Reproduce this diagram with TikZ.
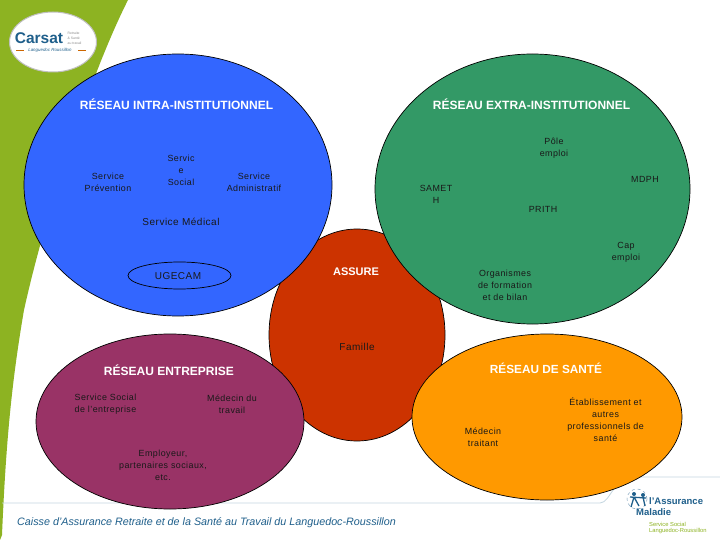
\documentclass[tikz,border=0pt]{standalone}
\usepackage{fontspec}
\setmainfont{Liberation Sans}
\usetikzlibrary{shapes.geometric}
\definecolor{cgreen}{HTML}{8DB322}
\definecolor{cblue}{HTML}{3366FF}
\definecolor{cteal}{HTML}{339966}
\definecolor{cred}{HTML}{CC3300}
\definecolor{cplum}{HTML}{993366}
\definecolor{corange}{HTML}{FF9900}
\definecolor{cnavy}{HTML}{1F5F8B}
\definecolor{crule}{HTML}{C4D6E0}
\tikzset{
  x=1pt,y=-1pt,
  blob/.style={ellipse,draw=black,line width=0.7pt,inner sep=0,outer sep=0},
  lab/.style={align=center,inner sep=0,text=black!90,font=\fontsize{8.9}{12}\selectfont\addfontfeature{LetterSpace=5}},
  big/.style={lab,font=\fontsize{10}{12}\selectfont\addfontfeature{LetterSpace=5}},
  ttl/.style={inner sep=0,text=white,font=\fontsize{12}{13}\selectfont\bfseries},
  foot/.style={inner sep=0,text=cnavy,font=\fontsize{10.75}{12}\selectfont\itshape},
}
\begin{document}
\begin{tikzpicture}
\useasboundingbox (0,0) rectangle (720,540);
\fill[white] (0,0) rectangle (720,540);
% green band
\fill[cgreen] (0,0) -- (128,0) .. controls (90,75) and (45,215) .. (24,310) .. controls (12,380) and (6,440) .. (2,535) -- (0,540) -- cycle;
% footer rules
\draw[crule,line width=0.8pt] (2,503) -- (600,503) .. controls (606,503) and (609,495) .. (614,489) .. controls (617,482) and (620,477) .. (630,477) -- (720,477);
% Carsat logo
\node[ellipse,draw=black!25,line width=1pt,fill=white,minimum width=87pt,minimum height=60pt,inner sep=0] (logo) at (53,42) {};
\node[inner sep=0,text=cnavy,font=\fontsize{15.5}{16}\selectfont\bfseries] (carsat) at (39,38) {Carsat};
\node[inner sep=0,align=left,text=black!45,font=\fontsize{3.4}{5.2}\selectfont,anchor=west] (carsub) at (67.5,38) {Retraite\\\& Santé\\au travail};
\node[inner sep=0,text=cnavy,font=\fontsize{4.4}{5}\selectfont\itshape] (carlang) at (50,50) {Languedoc Roussillon};
\coordinate (da) at (16,50); \coordinate (db) at (24,50); \coordinate (dc) at (78,50); \coordinate (dd) at (86,50);
\draw[orange!80!black,line width=0.6pt] (da) -- (db) (dc) -- (dd);
% big ellipses
\node[blob,fill=cred,minimum width=176pt,minimum height=212pt] (assure) at (357,335) {};
\node[blob,fill=cblue,minimum width=308pt,minimum height=262pt] (intra) at (178,185) {};
\node[blob,fill=cteal,minimum width=315pt,minimum height=270pt] (extra) at (532.5,189) {};
\node[blob,fill=cplum,minimum width=268pt,minimum height=175pt] (entre) at (170,421.5) {};
\node[blob,fill=corange,minimum width=270pt,minimum height=166pt] (sante) at (547,417) {};
\node[blob,fill=cblue,minimum width=103pt,minimum height=27pt] (ugecam) at (179.5,275.5) {};
% titles
\node[ttl] (t1) at (176.5,104) {RÉSEAU INTRA-INSTITUTIONNEL};
\node[ttl] (t2) at (531.5,104) {RÉSEAU EXTRA-INSTITUTIONNEL};
\node[ttl] (t3) at (169,370.5) {RÉSEAU ENTREPRISE};
\node[ttl,font=\fontsize{11.8}{13}\selectfont\bfseries] (t4) at (546,368.5) {RÉSEAU DE SANTÉ};
\node[ttl,font=\fontsize{11}{13}\selectfont\bfseries] (t5) at (356,271.5) {ASSURE};
% labels
\node[lab] (a1) at (108,182.5) {Service\\Prévention};
\node[lab] (a2) at (181,170) {Servic\\e\\Social};
\node[lab] (a3) at (254,182.5) {Service\\Administratif};
\node[big] (a4) at (181,222) {Service Médical};
\node[big] (a5) at (178,276) {UGECAM};
\node[lab] (b1) at (554,148) {Pôle\\emploi};
\node[lab] (b2) at (436,194.5) {SAMET\\H};
\node[lab] (b3) at (645,179) {MDPH};
\node[lab] (b4) at (543,209.5) {PRITH};
\node[lab] (b5) at (626,252) {Cap\\emploi};
\node[lab] (b6) at (505,285) {Organismes\\de formation\\et de bilan};
\node[big] (c1) at (357,347) {Famille};
\node[lab] (d1) at (105.5,404) {Service Social\\de l'entreprise};
\node[lab] (d2) at (232,404.5) {Médecin du\\travail};
\node[lab] (d3) at (163,465) {Employeur,\\partenaires sociaux,\\etc.};
\node[lab] (e1) at (483,437) {Médecin\\traitant};
\node[lab] (e2) at (605.5,420) {Établissement et\\autres\\professionnels de\\santé};
% footer texts
\node[foot,anchor=west] (f1) at (17,523) {Caisse d'Assurance Retraite et de la Santé au Travail du Languedoc-Roussillon};
\node[inner sep=0,text=cnavy,font=\fontsize{9.5}{11}\selectfont\bfseries,align=left,anchor=north west] (am) at (636,497.5) {\hspace{13pt}l'Assurance\\Maladie};
\node[inner sep=0,text=cgreen,font=\fontsize{5.8}{6.5}\selectfont,align=left,anchor=north west] (ss) at (649,522) {Service Social\\Languedoc-Roussillon};
% Assurance Maladie emblem
\node[circle,draw=cnavy!50,dashed,line width=0.6pt,minimum size=20pt,inner sep=0] (emb) at (637,499) {};
\fill[cnavy] (634,494) circle (2pt) (643,495) circle (2pt);
\draw[cnavy,line width=1.3pt] (634,497) -- (631,507) (634,497) -- (639,506) (630,497) -- (646,498) (643,497) -- (645,506);
\end{tikzpicture}
\end{document}
